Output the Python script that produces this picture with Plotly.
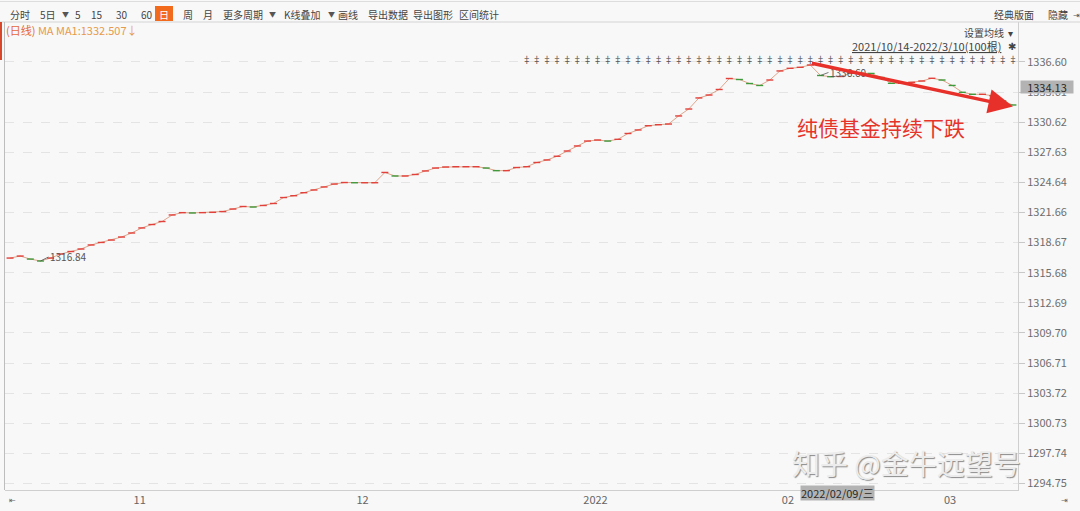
import pandas as pd
import plotly.graph_objects as go

# ---------------- data ----------------
holidays = ['2022-01-03', '2022-01-31', '2022-02-01', '2022-02-02', '2022-02-03', '2022-02-04']
dates = [d.strftime('%Y-%m-%d') for d in pd.bdate_range('2021-10-14', '2022-03-10')
         if d.strftime('%Y-%m-%d') not in holidays]

closes = [
    1317.13, 1317.33, 1317.03, 1316.84, 1317.13, 1317.53, 1317.78, 1318.03, 1318.43, 1318.68,
    1318.92, 1319.22, 1319.62, 1320.12, 1320.46, 1320.76, 1321.41, 1321.64, 1321.61, 1321.64,
    1321.67, 1321.75, 1322.00, 1322.25, 1322.20, 1322.35, 1322.55, 1323.14, 1323.32, 1323.62,
    1323.89, 1324.19, 1324.48, 1324.63, 1324.61, 1324.61, 1324.61, 1325.63, 1325.28, 1325.28,
    1325.43, 1325.78, 1326.07, 1326.17, 1326.20, 1326.20, 1326.20, 1326.07, 1325.81, 1325.81,
    1326.12, 1326.20, 1326.62, 1326.87, 1327.24, 1327.76, 1328.26, 1328.75, 1328.85, 1328.75,
    1328.92, 1329.50, 1329.85, 1330.27, 1330.37, 1330.44, 1331.24, 1331.93, 1333.03, 1333.32,
    1333.87, 1334.96, 1334.86, 1334.46, 1334.27, 1334.81, 1335.71, 1335.97, 1336.07, 1336.30,
    1335.26, 1335.14, 1335.16, 1335.48, 1335.48, 1335.46, 1335.06, 1334.48, 1334.48, 1334.58,
    1334.71, 1334.98, 1334.81, 1334.27, 1333.59, 1333.39, 1333.39, 1333.25, 1332.73, 1332.33,
]

y_ticks = [1294.75, 1297.74, 1300.73, 1303.72, 1306.71, 1309.70, 1312.69, 1315.68,
           1318.67, 1321.66, 1324.64, 1327.63, 1330.62, 1333.61, 1336.60]
month_tick_dates = ['2021-11-01', '2021-12-01', '2022-01-04', '2022-02-07', '2022-03-01']
month_tick_text = ['11', '12', '2022', '02', '03']

min_low = 1316.84
max_high = 1336.60
ma1 = 1332.507
cursor_price = 1334.13
cursor_date = '2022-02-09'
star_start = 51  # first candle carrying the event marker

# ---------------- figure ----------------
W, H = 1080, 511
L, R, T, B = 5, 62, 22, 21
y_range = [1294.10, 1340.57]
FONT = "Noto Sans CJK SC, Microsoft YaHei, sans-serif"


def px(x):
    return (x - L) / (W - L - R)


def py(y):
    return (H - B - y) / (H - T - B)


up_col, dn_col = '#e2403a', '#3f9a3c'
cols = [up_col] + [up_col if closes[i] >= closes[i - 1] else dn_col for i in range(1, len(closes))]

fig = go.Figure()
fig.add_trace(go.Scatter(x=dates, y=closes, mode='lines',
                         line=dict(color='#dfa58c', width=1), hoverinfo='skip'))
fig.add_trace(go.Scatter(x=dates, y=closes, mode='markers',
                         marker=dict(symbol='line-ew', size=5, color=cols,
                                     line=dict(color=cols, width=1.4)),
                         hoverinfo='skip'))
fig.add_trace(go.Scatter(x=dates[star_start:], y=[y_range[1] - 3.85] * (len(dates) - star_start),
                         mode='text', text=['‡'] * (len(dates) - star_start),
                         textfont=dict(size=9, color='#555555'), hoverinfo='skip'))

fig.update_layout(
    width=W, height=H,
    margin=dict(l=L, r=R, t=T, b=B),
    paper_bgcolor='#f8f8f8', plot_bgcolor='#f8f8f8',
    showlegend=False,
    font=dict(family=FONT, size=11, color='#666666'),
    xaxis=dict(type='category', range=[-0.5, len(dates) - 0.5],
               tickmode='array', tickvals=month_tick_dates, ticktext=month_tick_text,
               showgrid=False, showline=True, linecolor='#cfcfcf', linewidth=1,
               ticks='', ticklabelshift=8, ticklabelstandoff=0,
               tickfont=dict(size=11, color='#666666')),
    yaxis=dict(range=y_range, side='right', tickmode='array', tickvals=y_ticks,
               ticktext=[f'{v:.2f}' for v in y_ticks],
               showgrid=True, gridcolor='#e4e4e4', griddash='dash', gridwidth=1,
               showline=True, linecolor='#cfcfcf', linewidth=1, mirror=False,
               ticks='outside', ticklen=6, tickcolor='#c8c8c8',
               tickfont=dict(size=11, color='#6e6e6e'), zeroline=False),
)

shapes = [
    dict(type='line', xref='paper', yref='paper', x0=px(0), x1=px(W), y0=py(22), y1=py(22),
         line=dict(color='#d4d4d4', width=1)),
    dict(type='line', xref='paper', yref='paper', x0=px(0), x1=px(W), y0=py(1.5), y1=py(1.5),
         line=dict(color='#dddddd', width=1)),
    dict(type='line', xref='paper', yref='paper', x0=px(4.5), x1=px(4.5), y0=py(22), y1=py(490),
         line=dict(color='#bdbdbd', width=1)),
    dict(type='rect', xref='paper', yref='paper', x0=px(0), x1=px(2), y0=py(60), y1=py(22),
         fillcolor='#d9472b', line=dict(width=0)),
    dict(type='rect', xref='paper', yref='paper', x0=px(155), x1=px(173), y0=py(21), y1=py(6),
         fillcolor='#f26b1d', line=dict(width=0)),
]
fig.update_layout(shapes=shapes)

ann = []


def txt(x, y, s, size=10, color='#333333', anchor='left', **kw):
    ann.append(dict(xref='paper', yref='paper', x=px(x), y=py(y), text=s, showarrow=False,
                    xanchor=anchor, yanchor='middle', font=dict(size=size, color=color, family=FONT), **kw))


# toolbar
toolbar = [(8, '分时'), (38, '5日'), (60, '▼'), (73, '5'), (89, '15'), (114, '30'), (139, '60'),
           (181, '周'), (201, '月'), (221, '更多周期'), (267, '▼'), (282, 'K线叠加'), (326, '▼'),
           (336, '画线'), (366, '导出数据'), (411, '导出图形'), (457, '区间统计')]
for x, s in toolbar:
    txt(x, 14, s, size=10 if s != '▼' else 7, color='#444444' if s != '▼' else '#555555')
txt(164, 14, '日', color='#ffffff', anchor='center')
txt(992, 14, '经典版面', color='#444444')
txt(1046, 14, '隐藏', color='#444444')
txt(1071, 14, '⇥', size=8, color='#555555')

# second row
ann.append(dict(xref='paper', yref='paper', x=px(4), y=py(30), showarrow=False, xanchor='left',
                yanchor='middle',
                text=f"<span style='color:#e4683a'>(日线)</span> MA MA1:{ma1:.3f}↓",
                font=dict(size=11, color='#e69a4c', family=FONT)))
txt(1015, 32, '设置均线  ▾', color='#444444', anchor='right')
txt(1003, 46, f'<u>{dates[0][:4]}/{int(dates[0][5:7])}/{int(dates[0][8:])}-'
              f'{dates[-1][:4]}/{int(dates[-1][5:7])}/{int(dates[-1][8:])}({len(dates)}根)</u>',
    size=11, color='#444444', anchor='right')
txt(1006, 45, '✱', size=10, color='#444444')

# bottom row
txt(7, 500, '⇤', size=8, color='#666666')
txt(1059, 500, '⇥', size=8, color='#666666')

# min / max labels
ann.append(dict(x=dates[3], y=min_low, xref='x', yref='y', text=f'{min_low:.2f}',
                showarrow=True, arrowhead=0, arrowwidth=0.8, arrowcolor='#555555',
                ax=8, ay=-4, xanchor='left', yanchor='middle',
                font=dict(size=10, color='#555555', family=FONT)))
ann.append(dict(x=dates[80], y=closes[80], xref='x', yref='y', text=f'{max_high:.2f}',
                showarrow=True, arrowhead=0, arrowwidth=0.8, arrowcolor='#555555',
                ax=8, ay=-3, xanchor='left', yanchor='middle',
                font=dict(size=10, color='#555555', family=FONT)))

# cursor price label on axis
ann.append(dict(xref='paper', yref='y', x=1, xanchor='left', xshift=2, y=cursor_price,
                text=f'{cursor_price:.2f}', showarrow=False, bgcolor='#b3b3b3', width=52,
                height=12, borderpad=0, font=dict(size=11, color='#2a2a2a', family=FONT)))
# cursor date label
ann.append(dict(xref='x', yref='paper', x=cursor_date, xanchor='left', y=py(501),
                text='2022/02/09/三', showarrow=False, bgcolor='#b3b3b3', height=14,
                borderpad=0, font=dict(size=11, color='#2a2a2a', family=FONT)))

# red trend arrow and comment
ann.append(dict(x=dates[-1], y=closes[-1] - 0.15, xref='x', yref='y',
                ax=dates[79], ay=closes[79] + 0.2, axref='x', ayref='y',
                showarrow=True, arrowhead=2, arrowsize=1.4, arrowwidth=3.5,
                arrowcolor='#e8302a', text=''))
txt(881, 127, '纯债基金持续下跌', size=21, color='#e6342b', anchor='center')

# watermark
txt(906, 463, '知乎 @金牛远望号', size=28, color='#ececec', anchor='center')
ann[-1]['font']['shadow'] = '1px 1px 1px #8a8a8a'

fig.update_layout(annotations=ann)
fig.write_html('out.html', config={'displayModeBar': False},
               post_script="document.body.style.margin='0';")
